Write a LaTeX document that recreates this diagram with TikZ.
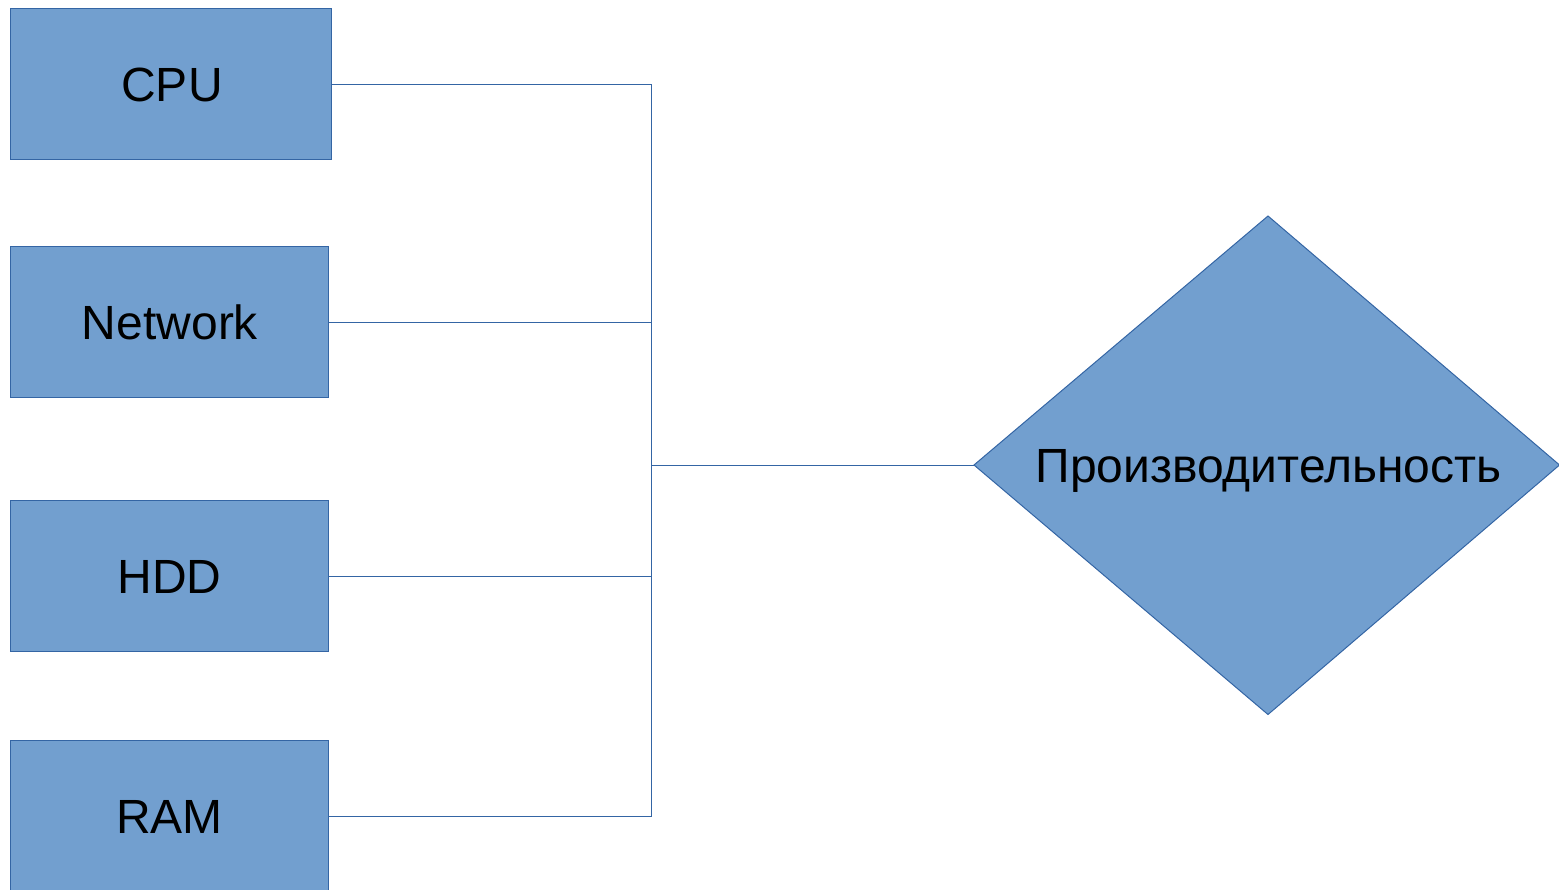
\documentclass[tikz,border=0pt]{standalone}
\usepackage{fontspec}
\setmainfont{Liberation Sans}
\usetikzlibrary{shapes.geometric}
\definecolor{boxfill}{HTML}{729FCF}
\definecolor{boxline}{HTML}{3465A4}
\begin{document}
\begin{tikzpicture}[x=1pt,y=-1pt,
  blk/.style={draw=boxline,fill=boxfill,line width=1pt},
  lbl/.style={font=\fontsize{48}{58}\selectfont,text=black,inner sep=0pt,anchor=base},
  conn/.style={draw=boxline,line width=1pt}]
\useasboundingbox (0,0) rectangle (1559,890);
\begin{scope}
\clip (0,0) rectangle (1559,890);
\filldraw[blk] (10.5,8.5) rectangle (331.5,159.5);
\filldraw[blk] (10.5,246.5) rectangle (328.5,397.5);
\filldraw[blk] (10.5,500.5) rectangle (328.5,651.5);
\filldraw[blk] (10.5,740.5) rectangle (328.5,905);
\filldraw[blk] (974,465) -- (1268,216) -- (1559.5,465) -- (1268,714.5) -- cycle;
\end{scope}
\node[lbl] (cpu) at (172,101.5) {CPU};
\node[lbl] (net) at (170,339.5) {Network};
\node[lbl] (hdd) at (169.5,593.5) {HDD};
\node[lbl] (ram) at (169.5,833.5) {RAM};
\node[lbl] (perf) at (1268.5,482.5) {Производительность};
\coordinate (cpuR) at (331.5,84.5);
\coordinate (netR) at (328.5,322.5);
\coordinate (hddR) at (328.5,576.5);
\coordinate (ramR) at (328.5,816.5);
\coordinate (diaL) at (974,465.5);
\coordinate (busT) at (651.5,84.5);
\coordinate (busB) at (651.5,816.5);
\draw[conn] (cpuR) -- (busT) -- (busB) -- (ramR);
\draw[conn] (netR) -- (netR -| busT);
\draw[conn] (hddR) -- (hddR -| busT);
\draw[conn] (diaL -| busT) -- (diaL);
\end{tikzpicture}
\end{document}
